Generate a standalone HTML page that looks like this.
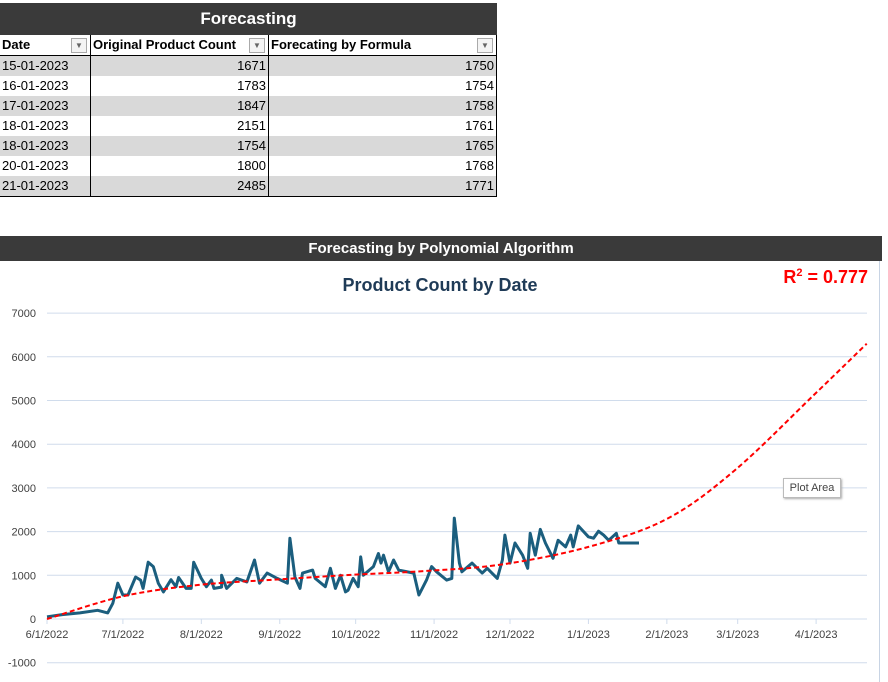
<!DOCTYPE html>
<html><head><meta charset="utf-8"><style>
body{margin:0;width:888px;height:682px;overflow:hidden;background:#fff;font-family:"Liberation Sans",Arial,sans-serif;position:relative}
.ttl{position:absolute;left:0;top:3px;width:497px;height:32px;background:#3a3a3a;color:#fff;font-weight:bold;font-size:17px;text-align:center;line-height:32px}
.row{position:absolute;left:0;width:497px;height:20px;font-size:13px;line-height:20px;border-bottom:1px solid #000}
.row div{position:absolute;top:0;height:20px;box-sizing:border-box;border-right:1px solid #000;padding:0 2px}
.c1{left:0;width:91px}.c2{left:91px;width:178px;text-align:right}.c3{left:269px;width:228px;text-align:right}
.hdr{font-weight:bold;border-bottom:2px solid #000}
.dd{position:absolute;right:3px;top:3px;width:14px;height:13px;border:1px solid #aaa;background:#f4f4f4;font-size:8px;line-height:13px;text-align:center;color:#666}
</style></head><body>
<div class="ttl">Forecasting</div>
<div class="row hdr" style="top:35px">
<div class="c1" style="text-align:left">Date<span class="dd">▼</span></div>
<div class="c2" style="text-align:left">Original Product Count<span class="dd">▼</span></div>
<div class="c3" style="text-align:left">Forecating by Formula<span class="dd">▼</span></div>
</div>
<div id="rows"></div>
<div style="position:absolute;left:0;top:236px;width:882px;height:25px;background:#3a3a3a;color:#fff;font-weight:bold;font-size:15px;text-align:center;line-height:25px">Forecasting by Polynomial Algorithm</div>
<div style="position:absolute;left:0;top:261px;width:879px;height:421px;border-right:1px solid #c8d4e4"></div>
<svg id="chart" width="888" height="682" style="position:absolute;left:0;top:0"></svg>
<div style="position:absolute;left:783px;top:478px;width:56px;height:18px;border:1px solid #bbb;background:#fff;font-size:11px;line-height:18px;text-align:center;color:#444;box-shadow:1px 1px 2px #aaa">Plot Area</div>
<script>
const tableDates=["15-01-2023","16-01-2023","17-01-2023","18-01-2023","18-01-2023","20-01-2023","21-01-2023"];
const tableCounts=[1671,1783,1847,2151,1754,1800,2485];
const tableForecast=[1750,1754,1758,1761,1765,1768,1771];
const dayOffsets=[0,6,13,20,24,26,28,30,32,35,37,38,40,42,44,46,49,51,52,55,57,58,61,63,65,66,69,69,71,75,79,82,84,87,91,95,96,98,100,101,105,106,110,112,114,116,118,119,121,123,124,125,129,131,132,133,135,137,139,145,147,150,152,154,158,160,161,163,164,168,172,174,178,180,181,183,185,188,190,191,193,195,197,200,202,205,207,208,210,214,216,218,220,222,225,226,227,234];
const counts=[50,100,140,200,140,360,820,550,550,960,890,700,1300,1200,820,620,900,740,950,700,700,1300,930,740,890,700,730,1000,700,930,850,1350,820,1050,930,820,1850,960,700,1050,1120,930,740,1160,700,1000,620,660,930,740,1420,1000,1200,1500,1280,1460,1080,1350,1120,1050,550,890,1200,1080,890,930,2310,1280,1080,1280,1050,1160,930,1350,1920,1280,1740,1460,1160,1960,1460,2050,1740,1390,1800,1650,1920,1650,2130,1880,1850,2010,1920,1800,1960,1740,1740,1740];
const trendDays=[0,30,60,90,120,150,180,214,245,272,303,324];
const trendValues=[0,520,780,900,1010,1100,1250,1650,2290,3410,5120,6300];
const yTicks=[-1000,0,1000,2000,3000,4000,5000,6000,7000];
const xTickLabels=["6/1/2022","7/1/2022","8/1/2022","9/1/2022","10/1/2022","11/1/2022","12/1/2022","1/1/2023","2/1/2023","3/1/2023","4/1/2023"];
const xTickDays=[0,30,61,92,122,153,183,214,245,273,304];

const rows=document.getElementById('rows');
tableDates.forEach((d,i)=>{
  const r=document.createElement('div');
  r.className='row';r.style.top=(56+i*20)+'px';r.style.background=i%2==0?'#d9d9d9':'#fff';
  
  
  r.innerHTML='<div class="c1">'+d+'</div><div class="c2">'+tableCounts[i]+'</div><div class="c3">'+tableForecast[i]+'</div>';
  rows.appendChild(r);
});

const NS='http://www.w3.org/2000/svg';
const svg=document.getElementById('chart');
const X=d=>47+d*2.53;
const Y=v=>619-v*0.0437;
function mk(tag,attrs,name){const e=document.createElementNS(NS,tag);for(const k in attrs)e.setAttribute(k,attrs[k]);
  
  
  svg.appendChild(e);return e;}
yTicks.forEach(v=>{
  mk('line',{x1:47,x2:867,y1:Y(v),y2:Y(v),stroke:'#d0dcec','stroke-width':1},'gridline');
  const t=mk('text',{x:36,y:Y(v)+4,'text-anchor':'end','font-size':11,fill:'#404040','font-family':'Liberation Sans, sans-serif'},'y-tick-label');t.textContent=v;
});
xTickDays.forEach((d,i)=>{
  mk('line',{x1:X(d),x2:X(d),y1:619,y2:624,stroke:'#d0dcec'},'x-tick');
  const t=mk('text',{x:X(d),y:638,'text-anchor':'middle','font-size':11,fill:'#404040','font-family':'Liberation Sans, sans-serif'},'x-tick-label');t.textContent=xTickLabels[i];
});
const tt=mk('text',{x:440,y:291,'text-anchor':'middle','font-size':18,'font-weight':'bold',fill:'#1f3b57','font-family':'Liberation Sans, sans-serif'},'chart-title');tt.textContent='Product Count by Date';
const r2=mk('text',{x:868,y:283,'text-anchor':'end','font-size':18,'font-weight':'bold',fill:'#ff0000','font-family':'Liberation Sans, sans-serif'},'r-squared-label');
r2.innerHTML='R<tspan dy="-7" font-size="11">2</tspan><tspan dy="7"> = 0.777</tspan>';
let p='';dayOffsets.forEach((d,i)=>{p+=(i?'L':'M')+X(d).toFixed(1)+','+Y(counts[i]).toFixed(1);});
mk('path',{d:p,fill:'none',stroke:'#1b5e7e','stroke-width':3,'stroke-linejoin':'round'},'product-count-line');
const tp=trendDays.map((d,i)=>[X(d),Y(trendValues[i])]);
let td='M'+tp[0][0]+','+tp[0][1];
for(let i=0;i<tp.length-1;i++){const p0=tp[Math.max(0,i-1)],p1=tp[i],p2=tp[i+1],p3=tp[Math.min(tp.length-1,i+2)];
  td+='C'+(p1[0]+(p2[0]-p0[0])/6)+','+(p1[1]+(p2[1]-p0[1])/6)+' '+(p2[0]-(p3[0]-p1[0])/6)+','+(p2[1]-(p3[1]-p1[1])/6)+' '+p2[0]+','+p2[1];}
mk('path',{d:td,fill:'none',stroke:'#ff0000','stroke-width':2,'stroke-dasharray':'5,3'},'polynomial-trendline');
</script>
</body></html>
